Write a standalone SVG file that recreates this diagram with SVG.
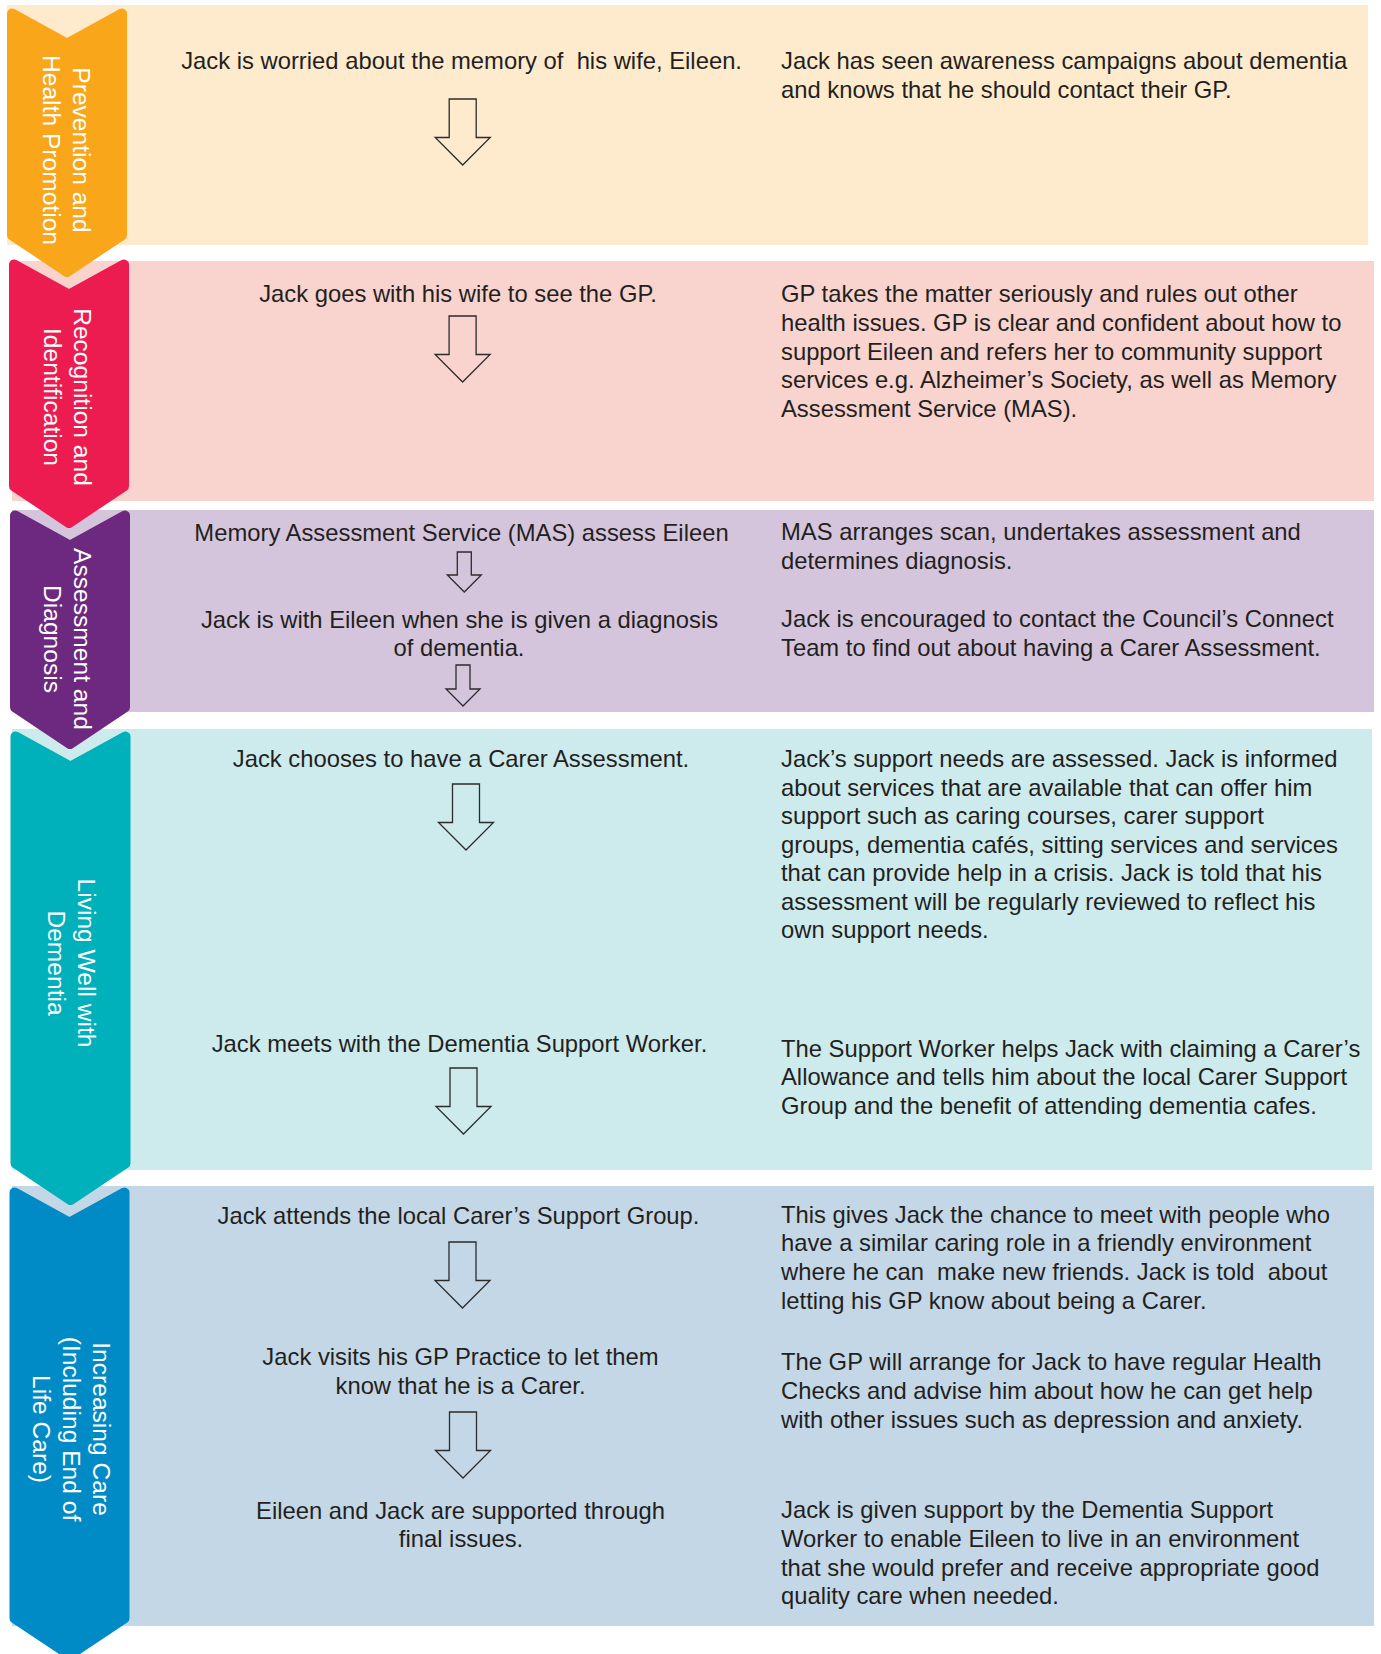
<svg xmlns="http://www.w3.org/2000/svg" width="1381" height="1654" viewBox="0 0 1381 1654">
<style>
.t{font-family:"Liberation Sans",Arial,Helvetica,sans-serif;font-size:23.8px;fill:#231f20}
.c{text-anchor:middle}
.lab{font-family:"Liberation Sans",Arial,Helvetica,sans-serif;font-size:24.6px;fill:#ffffff;text-anchor:middle}
.arr{fill:none;stroke:#2b2b2b;stroke-width:1.3;stroke-linejoin:miter}
.chev{stroke-width:10;stroke-linejoin:round}
</style>
<rect width="1381" height="1654" fill="#ffffff"/>

<g id="stage-increasing">
  <rect x="12" y="1186" width="1362" height="440" fill="#c3d7e7"/>
  <polygon class="chev" fill="#008ac6" stroke="#008ac6" points="14.5,1192.5 69.5,1222.7 124.5,1192.5 124.5,1618.3 69.5,1655 14.5,1618.3"/>
  <text class="lab" transform="translate(93,1429) rotate(90)">Increasing Care</text>
  <text class="lab" transform="translate(63,1429) rotate(90)">(Including End of</text>
  <text class="lab" transform="translate(33,1429) rotate(90)">Life Care)</text>
</g>
<g id="stage-living">
  <rect x="12" y="729" width="1360" height="441" fill="#cdebed"/>
  <polygon class="chev" fill="#00b0ba" stroke="#00b0ba" points="15.5,736.5 70.5,766.7 125.5,736.5 125.5,1163.3 70.5,1200 15.5,1163.3"/>
  <text class="lab" transform="translate(78,963) rotate(90)">Living Well with</text>
  <text class="lab" transform="translate(48,963) rotate(90)">Dementia</text>
</g>
<g id="stage-assessment">
  <rect x="12" y="510" width="1362" height="202" fill="#d5c5dc"/>
  <polygon class="chev" fill="#6d287f" stroke="#6d287f" points="15,515.5 70,545.7 125,515.5 125,707.3 70,744 15,707.3"/>
  <text class="lab" transform="translate(74,639) rotate(90)">Assessment and</text>
  <text class="lab" transform="translate(43.5,639) rotate(90)">Diagnosis</text>
</g>
<g id="stage-recognition">
  <rect x="12" y="261" width="1362" height="240" fill="#f9d3cd"/>
  <polygon class="chev" fill="#ec1c50" stroke="#ec1c50" points="14,264.5 69,294.7 124,264.5 124,486.3 69,523 14,486.3"/>
  <text class="lab" transform="translate(74,397) rotate(90)">Recognition and</text>
  <text class="lab" transform="translate(44,397) rotate(90)">Identification</text>
</g>
<g id="stage-prevention">
  <rect x="7" y="5" width="1361" height="240" fill="#feebce"/>
  <polygon class="chev" fill="#f9a61b" stroke="#f9a61b" points="12,13.5 67,43.7 122,13.5 122,235.3 67,272 12,235.3"/>
  <text class="lab" transform="translate(72.7,150) rotate(90)">Prevention and</text>
  <text class="lab" transform="translate(42.7,150) rotate(90)">Health Promotion</text>
</g>

<g id="step-worried"><text class="t c" x="461.6" y="69" xml:space="preserve">Jack is worried about the memory of  his wife, Eileen.</text></g>
<g id="note-awareness"><text class="t"><tspan x="781" y="69">Jack has seen awareness campaigns about dementia</tspan><tspan x="781" y="98">and knows that he should contact their GP.</tspan></text></g>

<g id="step-gp"><text class="t c" x="458" y="302">Jack goes with his wife to see the GP.</text></g>
<g id="note-gp"><text class="t"><tspan x="781" y="302.3">GP takes the matter seriously and rules out other</tspan><tspan x="781" y="330.9">health issues. GP is clear and confident about how to</tspan><tspan x="781" y="359.5">support Eileen and refers her to community support</tspan><tspan x="781" y="388.1">services e.g. Alzheimer’s Society, as well as Memory</tspan><tspan x="781" y="416.7">Assessment Service (MAS).</tspan></text></g>

<g id="step-mas"><text class="t c" x="461.5" y="541">Memory Assessment Service (MAS) assess Eileen</text></g>
<g id="note-mas"><text class="t"><tspan x="781" y="540">MAS arranges scan, undertakes assessment and</tspan><tspan x="781" y="568.6">determines diagnosis.</tspan></text></g>
<g id="step-diagnosis"><text class="t c"><tspan x="459.5" y="628">Jack is with Eileen when she is given a diagnosis</tspan><tspan x="459" y="656">of dementia.</tspan></text></g>
<g id="note-connect"><text class="t"><tspan x="781" y="627">Jack is encouraged to contact the Council’s Connect</tspan><tspan x="781" y="655.6">Team to find out about having a Carer Assessment.</tspan></text></g>

<g id="step-carer-assessment"><text class="t c" x="461" y="767">Jack chooses to have a Carer Assessment.</text></g>
<g id="note-carer-assessment"><text class="t"><tspan x="781" y="767">Jack’s support needs are assessed. Jack is informed</tspan><tspan x="781" y="795.5">about services that are available that can offer him</tspan><tspan x="781" y="824">support such as caring courses, carer support</tspan><tspan x="781" y="852.5">groups, dementia cafés, sitting services and services</tspan><tspan x="781" y="881">that can provide help in a crisis. Jack is told that his</tspan><tspan x="781" y="909.5">assessment will be regularly reviewed to reflect his</tspan><tspan x="781" y="938">own support needs.</tspan></text></g>
<g id="step-support-worker"><text class="t c" x="459.5" y="1052">Jack meets with the Dementia Support Worker.</text></g>
<g id="note-support-worker"><text class="t"><tspan x="781" y="1056.5">The Support Worker helps Jack with claiming a Carer’s</tspan><tspan x="781" y="1085.3">Allowance and tells him about the local Carer Support</tspan><tspan x="781" y="1114">Group and the benefit of attending dementia cafes.</tspan></text></g>

<g id="step-support-group"><text class="t c" x="458.5" y="1224">Jack attends the local Carer’s Support Group.</text></g>
<g id="note-support-group"><text class="t" xml:space="preserve"><tspan x="781" y="1222.5">This gives Jack the chance to meet with people who</tspan><tspan x="781" y="1251.3">have a similar caring role in a friendly environment</tspan><tspan x="781" y="1280.1">where he can  make new friends. Jack is told  about</tspan><tspan x="781" y="1308.9">letting his GP know about being a Carer.</tspan></text></g>
<g id="step-gp-practice"><text class="t c"><tspan x="460.5" y="1365">Jack visits his GP Practice to let them</tspan><tspan x="460.5" y="1394">know that he is a Carer.</tspan></text></g>
<g id="note-health-checks"><text class="t"><tspan x="781" y="1370">The GP will arrange for Jack to have regular Health</tspan><tspan x="781" y="1398.8">Checks and advise him about how he can get help</tspan><tspan x="781" y="1427.6">with other issues such as depression and anxiety.</tspan></text></g>
<g id="step-final"><text class="t c"><tspan x="460.5" y="1519">Eileen and Jack are supported through</tspan><tspan x="461" y="1547">final issues.</tspan></text></g>
<g id="note-final"><text class="t"><tspan x="781" y="1518">Jack is given support by the Dementia Support</tspan><tspan x="781" y="1546.8">Worker to enable Eileen to live in an environment</tspan><tspan x="781" y="1575.6">that she would prefer and receive appropriate good</tspan><tspan x="781" y="1604.4">quality care when needed.</tspan></text></g>

<g id="connectors">
  <path class="arr" d="M449.2,99 H476.2 V137.5 H490.2 L462.7,165 L435.2,137.5 H449.2 Z"/>
  <path class="arr" d="M449.1,316 H476.1 V354.5 H490.1 L462.6,382 L435.1,354.5 H449.1 Z"/>
  <path class="arr" d="M457.3,552 H471.3 V575 H481.3 L464.3,592 L447.3,575 H457.3 Z"/>
  <path class="arr" d="M456,665 H470 V689 H480 L463,706 L446,689 H456 Z"/>
  <path class="arr" d="M452.5,784 H479.5 V822.5 H493.5 L466,850 L438.5,822.5 H452.5 Z"/>
  <path class="arr" d="M450,1068 H477 V1106.5 H491 L463.5,1134 L436,1106.5 H450 Z"/>
  <path class="arr" d="M449,1242 H476 V1280.5 H490 L462.5,1308 L435,1280.5 H449 Z"/>
  <path class="arr" d="M449.5,1412 H476.5 V1450.5 H490.5 L463,1478 L435.5,1450.5 H449.5 Z"/>
</g>
</svg>
